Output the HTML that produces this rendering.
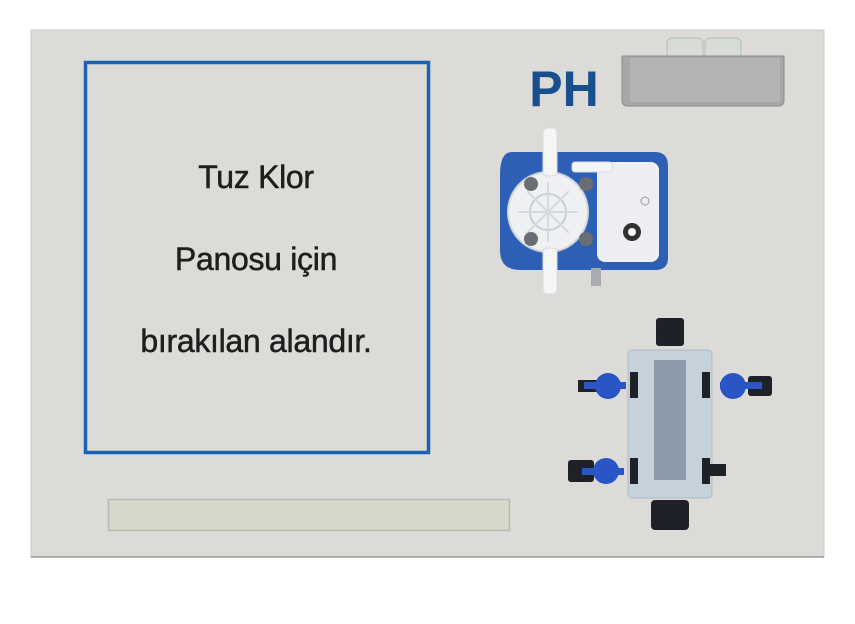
<!DOCTYPE html>
<html><head><meta charset="utf-8"><style>
html,body{margin:0;padding:0;background:#fff;width:855px;height:624px;overflow:hidden}
</style></head><body>
<svg width="855" height="624" viewBox="0 0 855 624" xmlns="http://www.w3.org/2000/svg">
<rect x="31" y="30" width="793" height="527" fill="#dcdbd7" stroke="#c8c8c4" stroke-width="1"/>
<line x1="31" y1="557" x2="824" y2="557" stroke="#9a9a98" stroke-width="1.5"/>
<rect x="85.5" y="62.5" width="343" height="390" fill="none" stroke="#1a62b4" stroke-width="3.5"/>
<g font-family="Liberation Sans, sans-serif" font-size="32" fill="#1e1e1e" stroke="#1e1e1e" stroke-width="0.5" text-anchor="middle" letter-spacing="-0.3">
<text x="256" y="188">Tuz Klor</text>
<text x="256" y="270">Panosu için</text>
<text x="256" y="352">bırakılan alandır.</text>
</g>
<rect x="108.5" y="499.5" width="401" height="31" fill="#d6d8cc" stroke="#b8b8b0" stroke-width="1.5"/>
<text x="564" y="106" font-family="Liberation Sans, sans-serif" font-weight="bold" font-size="50" fill="#1a4f8e" text-anchor="middle">PH</text>
<!-- PH box -->
<rect x="667" y="38" width="36" height="20" rx="5" fill="#d8dcd6" stroke="#b8bcb6"/>
<rect x="705" y="38" width="36" height="20" rx="5" fill="#d8dcd6" stroke="#b8bcb6"/>
<path d="M622 56 H784 V100 Q784 106 778 106 H628 Q622 106 622 100 Z" fill="#a6a7a9" stroke="#8a8b8d"/>
<rect x="630" y="58" width="150" height="44" fill="#b2b3b5"/>
<!-- pump -->
<path d="M512 152 H655 Q668 152 668 166 V258 Q668 270 655 270 H520 Q500 270 500 250 V175 Q500 152 512 152Z" fill="#2d5fb4"/>
<rect x="597" y="162" width="62" height="100" rx="8" fill="#eceef2"/>
<circle cx="548" cy="212" r="40" fill="#eef0f2" stroke="#d0d4da" stroke-width="2"/>
<circle cx="548" cy="212" r="18" fill="none" stroke="#c8ccd2" stroke-width="2"/>
<g stroke="#d6dade" stroke-width="2"><line x1="548" y1="182" x2="548" y2="242"/><line x1="518" y1="212" x2="578" y2="212"/><line x1="527" y1="191" x2="569" y2="233"/><line x1="569" y1="191" x2="527" y2="233"/></g>
<circle cx="531" cy="184" r="7" fill="#6a6e74"/><circle cx="586" cy="184" r="7" fill="#6a6e74"/>
<circle cx="531" cy="239" r="7" fill="#6a6e74"/><circle cx="586" cy="239" r="7" fill="#6a6e74"/>
<rect x="543" y="128" width="14" height="48" rx="4" fill="#f4f5f6" stroke="#d8dade"/>
<rect x="543" y="248" width="14" height="46" rx="4" fill="#f4f5f6" stroke="#d8dade"/>
<rect x="572" y="162" width="40" height="10" rx="3" fill="#f4f5f6" stroke="#d8dade"/>
<circle cx="632" cy="232" r="9" fill="#333"/><circle cx="632" cy="232" r="4" fill="#fff"/>
<circle cx="645" cy="201" r="4" fill="none" stroke="#999"/>
<rect x="591" y="268" width="10" height="18" fill="#a8acb0"/>
<!-- filter -->
<rect x="656" y="318" width="28" height="28" rx="3" fill="#1e2228"/>
<rect x="628" y="350" width="84" height="148" rx="4" fill="#c4d2dc" stroke="#a8b8c4" opacity="0.9"/>
<rect x="654" y="360" width="32" height="120" fill="#8a9aa8"/>
<rect x="651" y="500" width="38" height="30" rx="4" fill="#1e2228"/>
<g fill="#1e2228">
<rect x="630" y="372" width="8" height="26"/><rect x="702" y="372" width="8" height="26"/>
<rect x="630" y="458" width="8" height="26"/><rect x="702" y="458" width="8" height="26"/>
<rect x="578" y="380" width="20" height="12"/><rect x="748" y="376" width="24" height="20" rx="3"/>
<rect x="568" y="460" width="26" height="22" rx="3"/><rect x="708" y="464" width="18" height="12"/>
</g>
<g fill="#2a55c4">
<circle cx="608" cy="386" r="13"/><circle cx="733" cy="386" r="13"/><circle cx="606" cy="471" r="13"/>
<rect x="584" y="382" width="42" height="7"/><rect x="720" y="382" width="42" height="7"/><rect x="582" y="468" width="42" height="7"/>
</g>
</svg>
</body></html>
